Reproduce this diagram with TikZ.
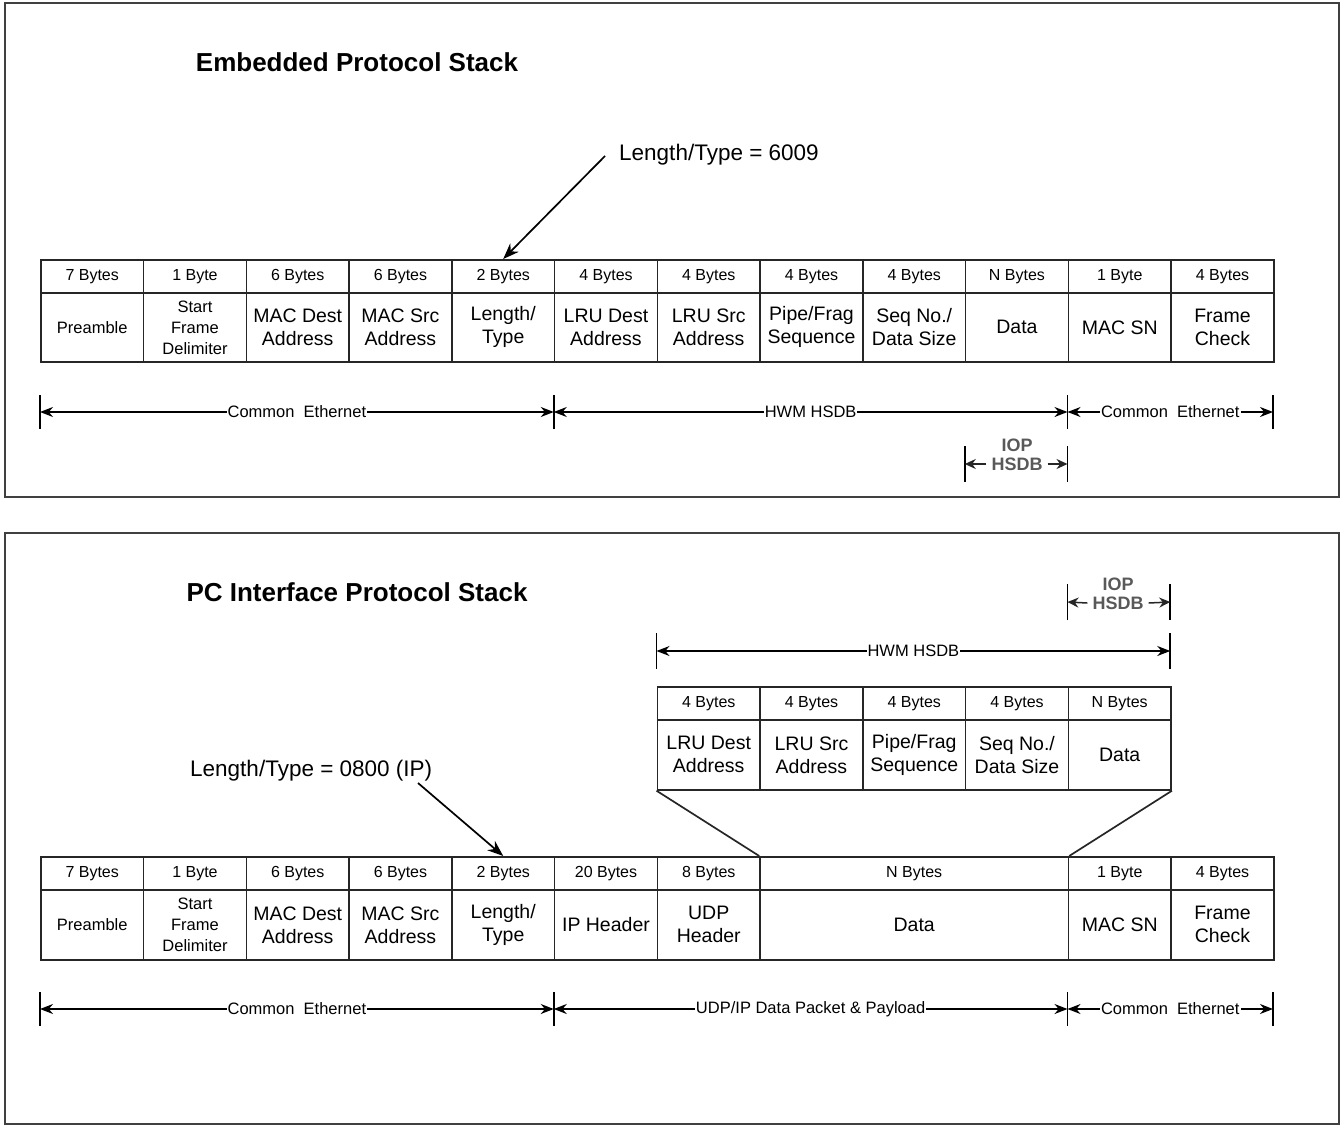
\documentclass[tikz,border=0pt]{standalone}
\usepackage{fontspec}
\setmainfont{Liberation Sans}
\usetikzlibrary{arrows.meta}
\begin{document}
\begin{tikzpicture}[x=1pt,y=-1pt,
  frame/.style={draw=black!75, line width=2.8pt},
  hdr/.style={draw=black!85, line width=1.7pt, minimum width=102.75pt, minimum height=33pt, inner sep=0pt, anchor=north west, font=\fontsize{16}{18}\selectfont},
  fld/.style={draw=black!85, line width=1.7pt, minimum width=102.75pt, minimum height=69pt, inner sep=0pt, anchor=north west, align=center, font=\fontsize{19.5}{23}\selectfont},
  fldsm/.style={fld, font=\fontsize{16.5}{21}\selectfont},
  dimline/.style={line width=1.5pt, {Stealth[length=13pt,width=10pt]}-{Stealth[length=13pt,width=10pt]}},
  tickmark/.style={line width=1.7pt},
  dimlbl/.style={fill=white, inner sep=1pt, font=\fontsize{16.5}{18}\selectfont},
  ttl/.style={font=\fontsize{26}{30}\selectfont\bfseries},
  note/.style={font=\fontsize{22.5}{26}\selectfont, anchor=west, inner sep=0pt},
  iop/.style={font=\fontsize{18}{20}\selectfont\bfseries, text=black!65, inner sep=0pt},
  iopar/.style={line width=1.5pt, draw=black!85, -{Stealth[length=11pt,width=10pt]}},
  pointer/.style={line width=1.7pt, -{Stealth[length=16pt,width=12pt]}}
]
\useasboundingbox (0,0) rectangle (1343,1126);
% frames
\draw[frame] (5,3) rectangle (1339,497);
\draw[frame] (5,533) rectangle (1339,1124);

% ===== Embedded protocol stack =====
\node[ttl] (title1) at (357,62) {Embedded Protocol Stack};
\foreach \i/\b/\f/\s in {
  0/7 Bytes/Preamble/fldsm,
  1/1 Byte/{Start\\Frame\\Delimiter}/fldsm,
  2/6 Bytes/{MAC Dest\\Address}/fld,
  3/6 Bytes/{MAC Src\\Address}/fld,
  4/2 Bytes/{Length/\\Type}/fld,
  5/4 Bytes/{LRU Dest\\Address}/fld,
  6/4 Bytes/{LRU Src\\Address}/fld,
  7/4 Bytes/{Pipe/Frag\\Sequence}/fld,
  8/4 Bytes/{Seq No./\\Data Size}/fld,
  9/N Bytes/Data/fld,
  10/1 Byte/MAC SN/fld,
  11/4 Bytes/{Frame\\Check}/fld}{
  \node[hdr] (ah\i) at ({40+\i*102.75},259) {\b};
  \node[\s] (af\i) at ({40+\i*102.75},292) {\f};
}
\node[note] (lt1) at (619,155) {Length/Type = 6009};
\draw[pointer] ([xshift=-14pt,yshift=-1pt]lt1.west) -- (ah4.north);

% dimension lines
\coordinate (ad0) at (40,412);
\coordinate (ad1) at (553.75,412);
\coordinate (ad2) at (1067.5,412);
\coordinate (ad3) at (1273,412);
\foreach \c in {ad0,ad1,ad2,ad3}{\draw[tickmark] ([yshift=17pt]\c) -- ([yshift=-17pt]\c);}
\draw[dimline] (ad0) -- node[dimlbl]{Common\ \ Ethernet} (ad1);
\draw[dimline] (ad1) -- node[dimlbl]{HWM HSDB} (ad2);
\draw[dimline] (ad2) -- node[dimlbl]{Common\ \ Ethernet} (ad3);

% IOP HSDB
\coordinate (ai0) at (964.75,464);
\coordinate (ai1) at (1067.5,464);
\draw[tickmark] ([yshift=18pt]ai0) -- ([yshift=-18pt]ai0);
\draw[tickmark] ([yshift=18pt]ai1) -- ([yshift=-18pt]ai1);
\node[iop] (aiop) at (1017,445) {IOP};
\node[iop] (ahsdb) at (1017,464) {HSDB};
\draw[iopar] ([xshift=-5pt]ahsdb.west) -- (ai0);
\draw[iopar] ([xshift=5pt]ahsdb.east) -- (ai1);

% ===== PC interface protocol stack =====
\node[ttl] (title2) at (357,592) {PC Interface Protocol Stack};

% IOP HSDB (top)
\coordinate (bi0) at (1067.5,602);
\coordinate (bi1) at (1170.25,602);
\draw[tickmark] ([yshift=18pt]bi0) -- ([yshift=-18pt]bi0);
\draw[tickmark] ([yshift=18pt]bi1) -- ([yshift=-18pt]bi1);
\node[iop] (biop) at (1118,584) {IOP};
\node[iop] (bhsdb) at (1118,603) {HSDB};
\draw[iopar] ([xshift=-5pt]bhsdb.west) -- (bi0);
\draw[iopar] ([xshift=5pt]bhsdb.east) -- (bi1);

% HWM HSDB dimension
\coordinate (bh0) at (656.5,651);
\coordinate (bh1) at (1170.25,651);
\draw[tickmark] ([yshift=18pt]bh0) -- ([yshift=-18pt]bh0);
\draw[tickmark] ([yshift=18pt]bh1) -- ([yshift=-18pt]bh1);
\draw[dimline] (bh0) -- node[dimlbl]{HWM HSDB} (bh1);

% upper (HSDB) table
\foreach \i/\b/\f in {
  0/4 Bytes/{LRU Dest\\Address},
  1/4 Bytes/{LRU Src\\Address},
  2/4 Bytes/{Pipe/Frag\\Sequence},
  3/4 Bytes/{Seq No./\\Data Size},
  4/N Bytes/Data}{
  \node[hdr] (uh\i) at ({656.5+\i*102.75},686) {\b};
  \node[fld, minimum height=70pt] (uf\i) at ({656.5+\i*102.75},719) {\f};
}

% lower table
\foreach \i/\b/\f/\s in {
  0/7 Bytes/Preamble/fldsm,
  1/1 Byte/{Start\\Frame\\Delimiter}/fldsm,
  2/6 Bytes/{MAC Dest\\Address}/fld,
  3/6 Bytes/{MAC Src\\Address}/fld,
  4/2 Bytes/{Length/\\Type}/fld,
  5/20 Bytes/IP Header/fld,
  6/8 Bytes/{UDP\\Header}/fld}{
  \node[hdr] (bh\i) at ({40+\i*102.75},856) {\b};
  \node[\s, minimum height=70pt] (bf\i) at ({40+\i*102.75},889) {\f};
}
\node[hdr, minimum width=308.25pt] (bh7) at (759.25,856) {N Bytes};
\node[fld, minimum width=308.25pt, minimum height=70pt] (bf7) at (759.25,889) {Data};
\node[hdr] (bh8) at (1067.5,856) {1 Byte};
\node[fld, minimum height=70pt] (bf8) at (1067.5,889) {MAC SN};
\node[hdr] (bh9) at (1170.25,856) {4 Bytes};
\node[fld, minimum height=70pt] (bf9) at (1170.25,889) {Frame\\Check};

% trapezoid connectors
\draw[line width=1.7pt, black!85] (uf0.south west) -- (bh7.north west);
\draw[line width=1.7pt, black!85] (uf4.south east) -- (bh7.north east);

% Length/Type 0800 note
\node[note] (lt2) at (190,771) {Length/Type = 0800 (IP)};
\coordinate (lt2p) at (418,783);
\draw[pointer] (lt2p) -- (bh4.north);

% bottom dimension lines
\coordinate (bd0) at (40,1009);
\coordinate (bd1) at (553.75,1009);
\coordinate (bd2) at (1067.5,1009);
\coordinate (bd3) at (1273,1009);
\foreach \c in {bd0,bd1,bd2,bd3}{\draw[tickmark] ([yshift=17pt]\c) -- ([yshift=-17pt]\c);}
\draw[dimline] (bd0) -- node[dimlbl]{Common\ \ Ethernet} (bd1);
\draw[dimline] (bd1) -- node[dimlbl]{UDP/IP Data Packet \& Payload} (bd2);
\draw[dimline] (bd2) -- node[dimlbl]{Common\ \ Ethernet} (bd3);
\end{tikzpicture}
\end{document}
